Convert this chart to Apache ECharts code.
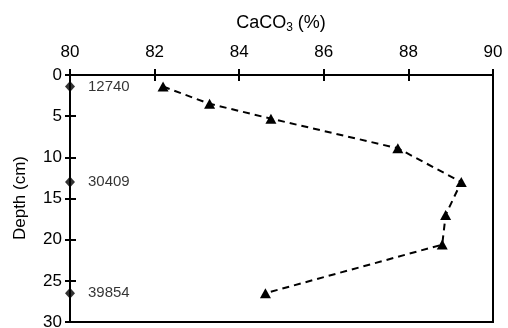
<!DOCTYPE html>
<html>
<head>
<meta charset="utf-8">
<script src="https://cdn.jsdelivr.net/npm/echarts@6/dist/echarts.min.js"></script>
<style>html,body{margin:0;padding:0;background:#fff}#c{width:508px;height:328px}</style>
</head>
<body>
<div id="c"></div>
<script>
const caco3 = [82.2, 83.3, 84.75, 87.75, 89.25, 88.88, 88.8, 84.62];
const caco3Depth = [1.4, 3.5, 5.3, 8.9, 13.0, 17.0, 20.6, 26.5];
const ageDepth = [1.4, 13.0, 26.5];
const ageLabels = ['12740', '30409', '39854'];
const xTicks = [80, 82, 84, 86, 88, 90];
const yTicks = [0, 5, 10, 15, 20, 25, 30];
const xTitle = ['CaCO', '3', ' (%)'];
const yTitle = 'Depth (cm)';

const FONT = 'Liberation Sans, Arial, Helvetica, sans-serif';
const ink = '#000';

const chart = echarts.init(document.getElementById('c'));

function xAx(main, inside) {
  return {
    type: 'value', gridIndex: 0, position: 'top',
    min: xTicks[0], max: xTicks[xTicks.length - 1], interval: 2,
    axisLine: { show: true, onZero: false, lineStyle: { color: ink, width: 2 } },
    axisTick: { show: true, inside: inside, length: 6, lineStyle: { color: ink, width: 2 } },
    axisLabel: main ? { fontFamily: FONT, fontSize: 17, color: ink, margin: 14 } : { show: false },
    splitLine: { show: false }
  };
}
function yAx(main, inside) {
  return {
    type: 'value', gridIndex: 0, position: 'left', inverse: true,
    min: yTicks[0], max: yTicks[yTicks.length - 1], interval: 5,
    axisLine: { show: true, onZero: false, lineStyle: { color: ink, width: 2 } },
    axisTick: { show: true, inside: inside, length: inside ? 6 : 5, lineStyle: { color: ink, width: 2 } },
    axisLabel: main ? { fontFamily: FONT, fontSize: 17, color: ink, margin: 8 } : { show: false },
    splitLine: { show: false }
  };
}

chart.setOption({
  animation: false,
  grid: { left: 70, right: 15, top: 75, bottom: 6, outerBoundsMode: 'none',
          show: true, borderColor: ink, borderWidth: 2 },
  xAxis: [xAx(true, false), xAx(false, true)],
  yAxis: [yAx(true, false), yAx(false, true)],
  graphic: [
    { type: 'text', x: 281, y: 23, style: {
        text: '{a|' + xTitle[0] + '}{s|' + xTitle[1] + '}{a|' + xTitle[2] + '}',
        align: 'center', verticalAlign: 'middle',
        rich: { a: { fontFamily: FONT, fontSize: 18, fill: ink }, s: { fontFamily: FONT, fontSize: 12, fill: ink, padding: [10, 0, 0, 0] } } } },
    { type: 'text', x: 20, y: 198, rotation: Math.PI / 2, style: {
        text: yTitle, align: 'center', verticalAlign: 'middle',
        fontFamily: FONT, fontSize: 17, fill: ink } }
  ],
  series: [
    {
      type: 'line', xAxisIndex: 0, yAxisIndex: 0,
      data: caco3.map((v, i) => [v, caco3Depth[i]]),
      symbol: 'triangle', symbolSize: [11, 10], showSymbol: true,
      lineStyle: { color: ink, width: 2, type: [7, 5] },
      itemStyle: { color: ink }
    },
    {
      type: 'scatter', xAxisIndex: 0, yAxisIndex: 0,
      data: ageDepth.map((d, i) => ({ value: [xTicks[0], d], name: ageLabels[i] })),
      symbol: 'diamond', symbolSize: [10, 11],
      itemStyle: { color: ink },
      clip: false,
      label: { show: true, position: 'right', distance: 13, formatter: p => p.name, fontFamily: FONT, fontSize: 15, color: ink }
    }
  ]
});
</script>
</body>
</html>
